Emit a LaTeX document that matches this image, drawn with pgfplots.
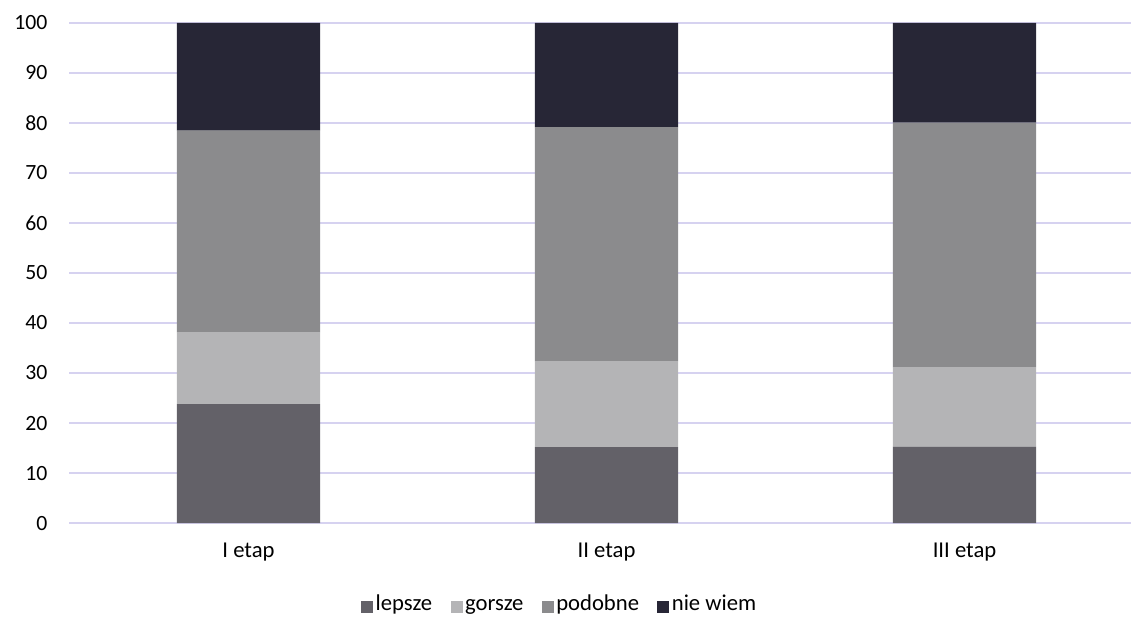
\documentclass[border=0pt]{standalone}
\usepackage{pgfplots}
\pgfplotsset{compat=1.18}
\usepackage{fontspec}
\setmainfont{Carlito}
\definecolor{cLep}{HTML}{636168}
\definecolor{cGor}{HTML}{B4B4B6}
\definecolor{cPod}{HTML}{8B8B8D}
\definecolor{cNie}{HTML}{272636}
\definecolor{cGrid}{HTML}{D6D2F0}
\begin{document}
\begin{tikzpicture}
\begin{axis}[
  scale only axis,
  width=796.1pt, height=375pt,
  ybar stacked,
  bar width=0.4,
  xmin=-0.5, xmax=2.465,
  ymin=0, ymax=100,
  ytick={0,10,...,100},
  xtick={0,1,2},
  xticklabels={I etap,II etap,III etap},
  axis line style={draw=none},
  ymajorgrids,
  grid style={cGrid, line width=1.1pt},
  major tick length=0pt,
  yticklabel style={font=\fontsize{16.3}{18}\selectfont, anchor=east, xshift=-13pt},
  /pgf/number format/assume math mode=true,
  xticklabel style={font=\fontsize{17}{19}\selectfont, anchor=center, yshift=-22pt},
  legend columns=-1,
  legend style={draw=none, at={(0.462,-0.168)}, anchor=center,
    font=\fontsize{17}{19}\selectfont,
    nodes={text height=1.4ex, text depth=0.35ex, inner sep=1.8pt},
    /tikz/every even column/.append style={column sep=12pt}},
  legend image code/.code={\fill[#1] (0pt,-4.6pt) rectangle (9pt,4.4pt);},
  clip=false,
]
\addplot[fill=cLep, draw=none] coordinates {(0,23.8) (1,15.2) (2,15.3)};
\addplot[fill=cGor, draw=none] coordinates {(0,14.4) (1,17.2) (2,15.9)};
\addplot[fill=cPod, draw=none] coordinates {(0,40.3) (1,46.8) (2,48.9)};
\addplot[fill=cNie, draw=none] coordinates {(0,21.5) (1,20.8) (2,19.9)};
\legend{lepsze,gorsze,podobne,nie wiem}
\end{axis}
\pgfresetboundingbox
\useasboundingbox (-52.1pt,-70.5pt) rectangle (796.1pt,392.25pt);
\end{tikzpicture}
\end{document}
